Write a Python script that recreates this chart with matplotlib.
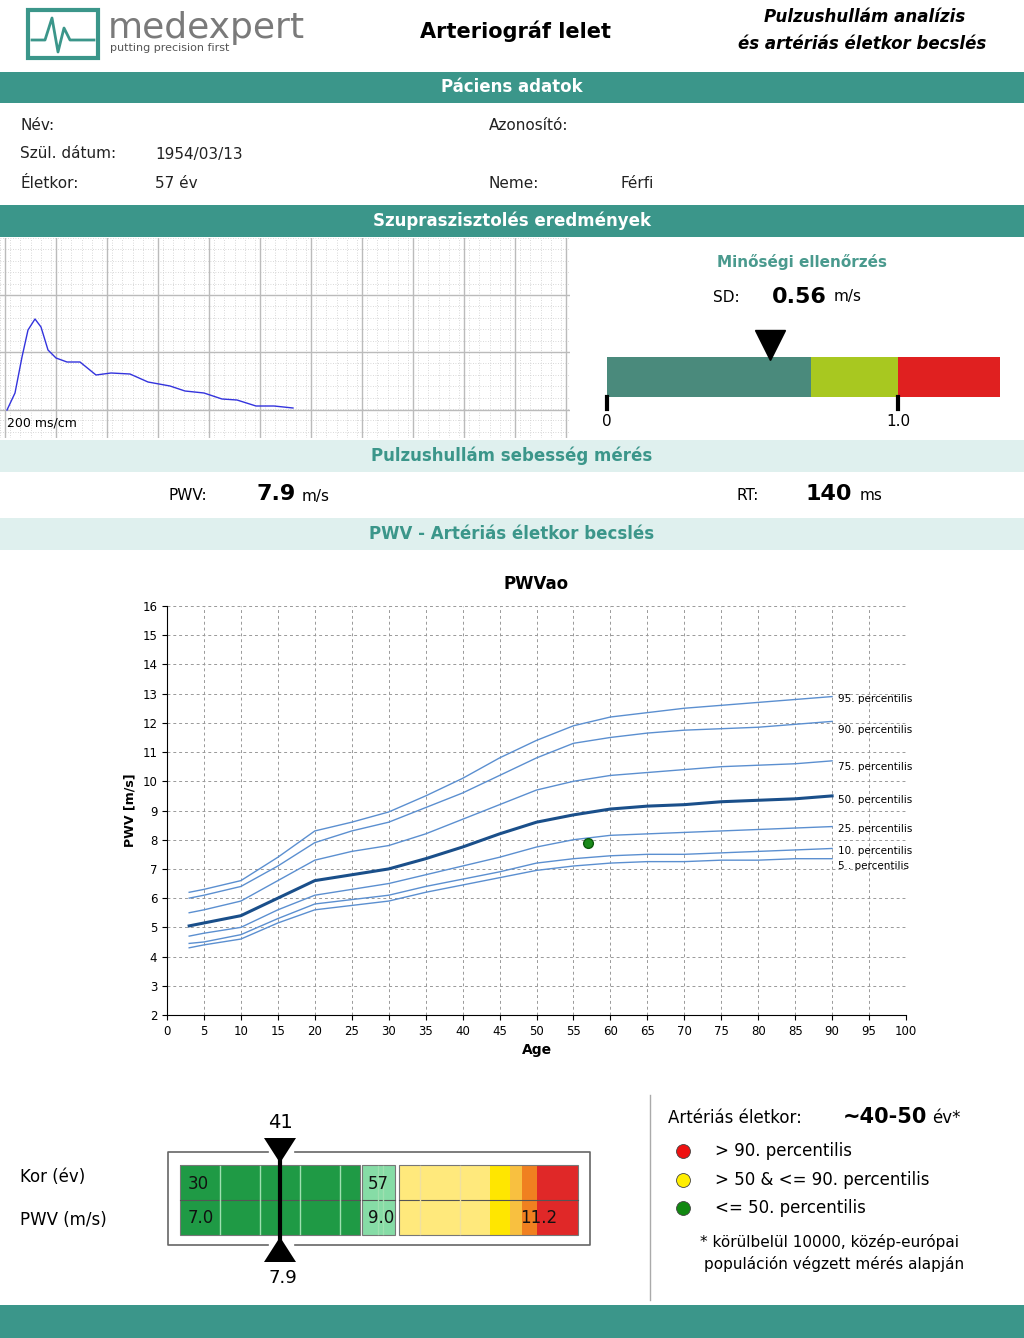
import matplotlib.pyplot as plt
import numpy as np
from matplotlib.patches import Rectangle, Polygon

# ---- data ----
ages = [3, 5, 10, 15, 20, 25, 30, 35, 40, 45, 50, 55, 60, 65, 70, 75, 80, 85, 90]
p95 = [6.2, 6.3, 6.6, 7.4, 8.3, 8.6, 8.95, 9.5, 10.1, 10.8, 11.4, 11.9, 12.2, 12.35, 12.5, 12.6, 12.7, 12.8, 12.9]
p90 = [6.0, 6.1, 6.4, 7.1, 7.9, 8.3, 8.6, 9.1, 9.6, 10.2, 10.8, 11.3, 11.5, 11.65, 11.75, 11.8, 11.85, 11.95, 12.05]
p75 = [5.5, 5.6, 5.9, 6.6, 7.3, 7.6, 7.8, 8.2, 8.7, 9.2, 9.7, 10.0, 10.2, 10.3, 10.4, 10.5, 10.55, 10.6, 10.7]
p50 = [5.05, 5.15, 5.4, 6.0, 6.6, 6.8, 7.0, 7.35, 7.75, 8.2, 8.6, 8.85, 9.05, 9.15, 9.2, 9.3, 9.35, 9.4, 9.5]
p25 = [4.7, 4.8, 5.0, 5.6, 6.1, 6.3, 6.5, 6.8, 7.1, 7.4, 7.75, 8.0, 8.15, 8.2, 8.25, 8.3, 8.35, 8.4, 8.45]
p10 = [4.45, 4.5, 4.75, 5.3, 5.8, 5.95, 6.1, 6.4, 6.65, 6.9, 7.2, 7.35, 7.45, 7.5, 7.5, 7.55, 7.6, 7.65, 7.7]
p5 = [4.3, 4.4, 4.6, 5.15, 5.6, 5.75, 5.9, 6.2, 6.45, 6.7, 6.95, 7.1, 7.2, 7.25, 7.25, 7.3, 7.3, 7.35, 7.35]
curve_names = ["95. percentilis", "90. percentilis", "75. percentilis", "50. percentilis",
               "25. percentilis", "10. percentilis", "5 . percentilis"]
patient_age = 57
patient_pwv = 7.9

# waveform (time px, amplitude px)
wave_t = [7, 15, 22, 28, 35, 41, 48, 56, 67, 80, 96, 111, 130, 148, 170, 185, 204, 222, 237, 256, 274, 293]
wave_y = [410, 393, 357, 330, 319, 327, 350, 358, 362, 362, 375, 373, 374, 382, 386, 391, 393, 399, 400, 406, 406, 408]

sd_value = 0.56
sd_segments = [(0.0, 0.70, "#4a8a7c"), (0.70, 1.0, "#a8c820"), (1.0, 1.35, "#e02020")]

# bottom bar segments (px start, px end, colour)
age_bar = [(180, 360, "#1f9a45"), (362, 395, "#86dca6"), (399, 490, "#ffe97c"),
           (490, 510, "#ffe600"), (510, 522, "#f8c040"), (522, 537, "#f08020"), (537, 578, "#e02828")]
bar_labels_top = [(188, "30"), (368, "57")]
bar_labels_bot = [(188, "7.0"), (368, "9.0"), (520, "11.2")]
arterial_age = "41"

TEAL = "#3b968a"
LIGHT = "#dff0ee"
TXT = "#222222"

fig = plt.figure(figsize=(10.24, 13.38), dpi=100)
bg = fig.add_axes([0, 0, 1, 1])
bg.set_xlim(0, 1024)
bg.set_ylim(1338, 0)
bg.axis("off")

# header
bg.add_patch(Rectangle((28, 10), 70, 48, fc="white", ec=TEAL, lw=3))
bg.plot([32, 45, 52, 58, 64, 70, 94], [40, 40, 18, 52, 28, 40, 40], color=TEAL, lw=2)
bg.text(108, 28, "medexpert", fontsize=26, color="#7a7a7a", va="center")
bg.text(110, 48, "putting precision first", fontsize=8, color="#555555", va="center")
bg.text(515, 31, "Arteriográf lelet", fontsize=15, fontweight="bold", ha="center", va="center")
bg.text(865, 17, "Pulzushullám analízis", fontsize=12, fontweight="bold", style="italic", ha="center", va="center")
bg.text(862, 44, "és artériás életkor becslés", fontsize=12, fontweight="bold", style="italic", ha="center", va="center")


def band(y0, y1, text, dark=True):
    bg.add_patch(Rectangle((0, y0), 1024, y1 - y0, fc=TEAL if dark else LIGHT, ec="none"))
    bg.text(512, (y0 + y1) / 2, text, fontsize=12, fontweight="bold",
            color="white" if dark else TEAL, ha="center", va="center")


band(72, 103, "Páciens adatok")
band(205, 237, "Szupraszisztolés eredmények")
band(440, 472, "Pulzushullám sebesség mérés", dark=False)
band(518, 550, "PWV - Artériás életkor becslés", dark=False)
bg.add_patch(Rectangle((0, 1305), 1024, 33, fc=TEAL, ec="none"))

for x, y, t in [(20, 126, "Név:"), (20, 154, "Szül. dátum:"), (155, 154, "1954/03/13"),
                (20, 183, "Életkor:"), (155, 183, "57 év"), (489, 126, "Azonosító:"),
                (489, 183, "Neme:"), (620, 183, "Férfi")]:
    bg.text(x, y, t, fontsize=11, color=TXT, va="center")

# quality check
bg.text(802, 262, "Minőségi ellenőrzés", fontsize=11, fontweight="bold", color="#4a9a8e", ha="center", va="center")
bg.text(713, 297, "SD:", fontsize=11, va="center")
bg.text(772, 297, f"{sd_value:.2f}", fontsize=16, fontweight="bold", va="center")
bg.text(834, 297, "m/s", fontsize=11, va="center")

# PWV / RT
bg.text(168, 496, "PWV:", fontsize=11, va="center")
bg.text(256, 494, f"{patient_pwv}", fontsize=16, fontweight="bold", va="center")
bg.text(302, 496, "m/s", fontsize=11, va="center")
bg.text(737, 496, "RT:", fontsize=11, va="center")
bg.text(806, 494, "140", fontsize=16, fontweight="bold", va="center")
bg.text(860, 496, "ms", fontsize=11, va="center")

# waveform panel
wa = fig.add_axes([0, 1 - 438 / 1338, 570 / 1024, 200 / 1338])
wa.set_xlim(0, 570)
wa.set_ylim(438, 238)
for x in np.arange(0, 570, 10.2):
    wa.axvline(x, color="#cccccc", lw=0.6, ls=(0, (1, 2)))
for y in np.arange(238, 438, 11.4):
    wa.axhline(y, color="#cccccc", lw=0.6, ls=(0, (1, 2)))
for x in np.arange(5, 570, 51):
    wa.axvline(x, color="#bbbbbb", lw=1)
for y in [295, 352, 410]:
    wa.axhline(y, color="#bbbbbb", lw=1)
wa.plot(wave_t, wave_y, color="#3333dd", lw=1)
wa.text(7, 423, "200 ms/cm", fontsize=9, va="center")
wa.set_xticks([])
wa.set_yticks([])
for s in wa.spines.values():
    s.set_visible(False)

# SD bar
sa = fig.add_axes([607 / 1024, 1 - 397 / 1338, 393 / 1024, 40 / 1338])
for a, b, c in sd_segments:
    sa.add_patch(Rectangle((a, 0), b - a, 1, fc=c, ec="none"))
sa.set_xlim(0, 1.35)
sa.set_ylim(0, 1)
sa.axis("off")
sa.plot([sd_value], [1.3], marker="v", ms=22, color="black", clip_on=False)
for t in [0, 1.0]:
    sa.plot([t, t], [0, -0.3], color="black", lw=3, clip_on=False)
    sa.text(t, -0.6, "0" if t == 0 else "1.0", fontsize=11, ha="center", va="center")

# main chart
ax = fig.add_axes([167 / 1024, 1 - 1015 / 1338, 739 / 1024, 409 / 1338])
curves = [p95, p90, p75, p50, p25, p10, p5]
for name, c in zip(curve_names, curves):
    bold = name.startswith("50")
    ax.plot(ages, c, color="#1a4f8a" if bold else "#5b8fd0", lw=2.2 if bold else 1)
    off = {"95": -0.1, "90": -0.3, "75": -0.2, "50": -0.15, "25": -0.1, "10": -0.1, "5 ": -0.25}[name[:2]]
    ax.text(90.8, c[-1] + off, name, fontsize=7.5, va="center")
ax.plot([patient_age], [patient_pwv], "o", color="#1a8a1a", ms=7, mec="#0a5a0a")
ax.set_xlim(0, 100)
ax.set_ylim(2, 16)
ax.set_xticks(range(0, 101, 5))
ax.set_yticks(range(2, 17))
ax.tick_params(labelsize=8.5)
ax.grid(color="#999999", ls=(0, (3, 3)), lw=0.7)
ax.spines["top"].set_visible(False)
ax.spines["right"].set_visible(False)
ax.set_xlabel("Age", fontsize=10, fontweight="bold")
ax.set_ylabel("PWV [m/s]", fontsize=9, fontweight="bold")
ax.set_title("PWVao", fontsize=12, fontweight="bold", pad=12)

# bottom age bar
bg.text(20, 1177, "Kor (év)", fontsize=12, va="center")
bg.text(20, 1220, "PWV (m/s)", fontsize=12, va="center")
bg.plot([268, 168, 168, 268], [1152, 1152, 1245, 1245], color="#666666", lw=1.2)
bg.plot([295, 590, 590, 295], [1152, 1152, 1245, 1245], color="#666666", lw=1.2)
for a, b, c in age_bar:
    bg.add_patch(Rectangle((a, 1165), b - a, 70, fc=c, ec="none"))
for a, b in [(180, 360), (362, 395), (399, 578)]:
    bg.add_patch(Rectangle((a, 1165), b - a, 70, fc="none", ec="#777777", lw=0.8))
    bg.plot([a, b], [1200, 1200], color="#555555", lw=0.8)
for x in [220, 260, 300, 340, 378, 383]:
    bg.plot([x, x], [1166, 1234], color="#9ee0b0", lw=1)
for x in [420, 460]:
    bg.plot([x, x], [1166, 1234], color="#f0e0a0", lw=1)
for x, t in bar_labels_top:
    bg.text(x, 1184, t, fontsize=12, va="center", color="#111111")
for x, t in bar_labels_bot:
    bg.text(x, 1218, t, fontsize=12, va="center", color="#111111")
bg.plot([280, 280], [1160, 1240], color="black", lw=3)
bg.add_patch(Polygon([[264, 1138], [296, 1138], [280, 1163]], fc="black"))
bg.add_patch(Polygon([[264, 1262], [296, 1262], [280, 1237]], fc="black"))
bg.text(280, 1122, arterial_age, fontsize=14, ha="center", va="center")
bg.text(283, 1278, f"{patient_pwv}", fontsize=13, ha="center", va="center")

# legend panel
bg.plot([650, 650], [1095, 1300], color="#aaaaaa", lw=1)
bg.text(668, 1118, "Artériás életkor:", fontsize=12, va="center")
bg.text(843, 1117, "~40-50", fontsize=15, fontweight="bold", va="center")
bg.text(932, 1118, "év*", fontsize=12, va="center")
for y, c, t in [(1151, "#ee1111", "> 90. percentilis"), (1180, "#ffee00", "> 50 & <= 90. percentilis"),
                (1208, "#118811", "<= 50. percentilis")]:
    bg.plot([683], [y], "o", color=c, ms=10, mec="#444444", mew=0.6)
    bg.text(715, y, t, fontsize=12, va="center")
bg.text(700, 1242, "* körülbelül 10000, közép-európai", fontsize=11, va="center")
bg.text(704, 1264, "populáción végzett mérés alapján", fontsize=11, va="center")

fig.savefig("out.png", dpi=100)
